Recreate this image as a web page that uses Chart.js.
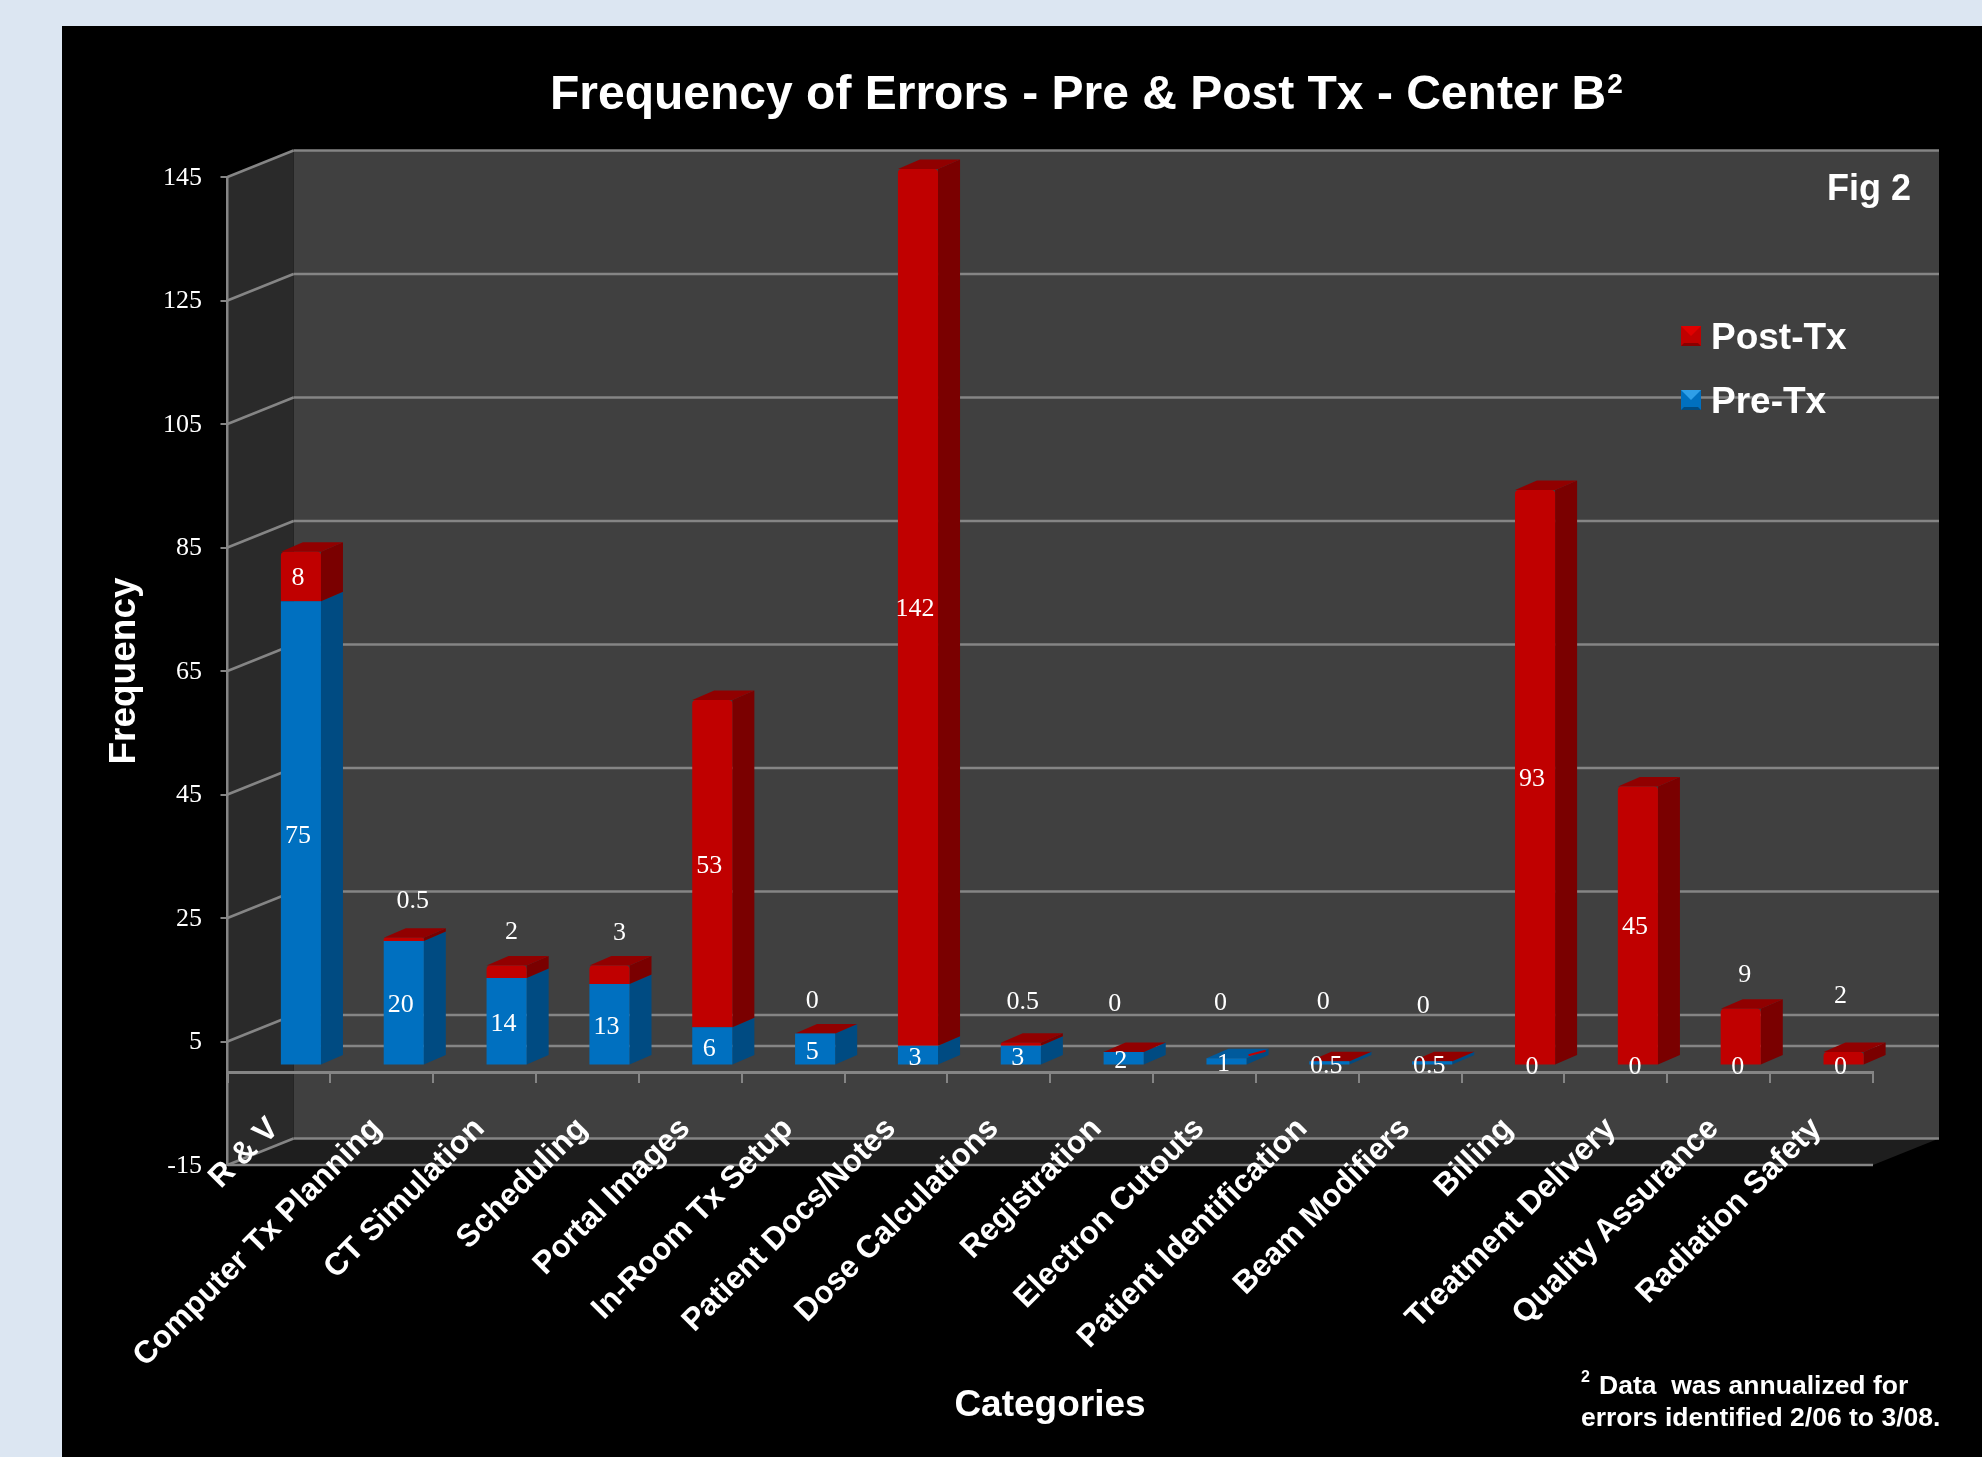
<!DOCTYPE html>
<html>
<head>
    <title>Frequency of Errors</title>
    <script src="https://cdn.jsdelivr.net/npm/chart.js"></script>
    <style>
        body { margin: 0; background: #dce6f2; }
        canvas { display: block; }
    </style>
</head>
<body>
    <canvas id="errorsChart" width="1982" height="1457"></canvas>

    <script>
        const categories = ['R & V', 'Computer Tx Planning', 'CT Simulation', 'Scheduling', 'Portal Images',
            'In-Room Tx Setup', 'Patient Docs/Notes', 'Dose Calculations', 'Registration', 'Electron Cutouts',
            'Patient Identification', 'Beam Modifiers', 'Billing', 'Treatment Delivery', 'Quality Assurance',
            'Radiation Safety'];
        const preTx = [75, 20, 14, 13, 6, 5, 3, 3, 2, 1, 0.5, 0.5, 0, 0, 0, 0];
        const postTx = [8, 0.5, 2, 3, 53, 0, 142, 0.5, 0, 0, 0, 0, 93, 45, 9, 2];
        const yTicks = [-15, 5, 25, 45, 65, 85, 105, 125, 145];

        // hand placed labels for the short post-tx segments, relative to the segment centre
        const postLabelDx = [0, 12, 8, 13, 0, 0, 0, 5, -6, -3, -3, -6, 0, 0, 7, 0];
        const postLabelDy = [0, -40, -42, -44, 0, -34, 0, -44, -50, -57, -61, -57, 0, 0, -63, -64];

        const SANS = '"Liberation Sans", Arial, sans-serif';
        const SERIF = '"Liberation Serif", "Times New Roman", serif';
        const LINE = '#858585';

        // depth of the box and where the bars sit inside it
        const wallDx = 66, wallDy = 26.5;
        const barOffX = 22, barOffY = 8;
        const barDx = 22, barDy = 9.5;

        const colours = {
            pre: { front: '#0070c0', side: '#004b82', top: '#005a9c' },
            post: { front: '#c00000', side: '#7a0000', top: '#910000' }
        };

        function poly(ctx, pts, fill) {
            ctx.beginPath();
            pts.forEach((p, i) => i ? ctx.lineTo(p[0], p[1]) : ctx.moveTo(p[0], p[1]));
            ctx.closePath();
            ctx.fillStyle = fill;
            ctx.fill();
        }

        function seg(ctx, x1, y1, x2, y2) {
            ctx.beginPath();
            ctx.moveTo(x1, y1);
            ctx.lineTo(x2, y2);
            ctx.stroke();
        }

        function text(ctx, str, x, y, font, align) {
            ctx.font = font;
            ctx.fillStyle = '#fff';
            ctx.textAlign = align || 'center';
            ctx.textBaseline = 'middle';
            ctx.fillText(str, x, y);
        }

        // black panel, walls, floor and gridlines of the 3d box
        const boxPlugin = {
            id: 'box',
            beforeDraw(chart) {
                const ctx = chart.ctx, a = chart.chartArea, y = chart.scales.y;
                const L = a.left, R = a.right, T = a.top, B = a.bottom;
                ctx.save();
                ctx.fillStyle = '#dce6f2';
                ctx.fillRect(0, 0, chart.width, chart.height);
                ctx.fillStyle = '#000';
                ctx.fillRect(62, 26, chart.width - 62, chart.height - 26);

                poly(ctx, [[L + wallDx, T - wallDy], [R + wallDx, T - wallDy], [R + wallDx, B - wallDy], [L + wallDx, B - wallDy]], '#404040');
                poly(ctx, [[L, T], [L + wallDx, T - wallDy], [L + wallDx, B - wallDy], [L, B]], '#2a2a2a');
                poly(ctx, [[L, B], [L + wallDx, B - wallDy], [R + wallDx, B - wallDy], [R, B]], '#1e1e1e');

                ctx.strokeStyle = LINE;
                ctx.lineWidth = 2.5;
                yTicks.forEach(v => {
                    const py = y.getPixelForValue(v);
                    seg(ctx, L, py, L + wallDx, py - wallDy);
                    seg(ctx, L + wallDx, py - wallDy, R + wallDx, py - wallDy);
                });
                const zero = y.getPixelForValue(0);
                seg(ctx, L + wallDx, zero - wallDy, R + wallDx, zero - wallDy);
                seg(ctx, L, B, R, B);
                ctx.restore();
            },
            // side and top faces come from the bar elements, the fronts are drawn by the chart
            beforeDatasetsDraw(chart) {
                const ctx = chart.ctx;
                const pre = chart.getDatasetMeta(0).data;
                const post = chart.getDatasetMeta(1).data;
                ctx.save();
                categories.forEach((name, i) => {
                    [[pre[i], colours.pre], [post[i], colours.post]].forEach(([bar, c]) => {
                        const r = bar.x + bar.width / 2 + barOffX;
                        const top = bar.y - barOffY, bot = bar.base - barOffY;
                        poly(ctx, [[r, top], [r + barDx, top - barDy], [r + barDx, bot - barDy], [r, bot]], c.side);
                    });
                    const b = post[i];
                    const l = b.x - b.width / 2 + barOffX, r = b.x + b.width / 2 + barOffX, t = b.y - barOffY;
                    // the electron cutouts bar shows its blue top with only a sliver of red
                    const blueTop = name === 'Electron Cutouts';
                    poly(ctx, [[l, t], [l + barDx, t - barDy], [r + barDx, t - barDy], [r, t]], blueTop ? colours.pre.top : colours.post.top);
                    if (blueTop) {
                        ctx.strokeStyle = colours.post.front;
                        ctx.lineWidth = 2;
                        seg(ctx, r + 2, t - 3, r + barDx - 3, t - barDy + 2);
                    }
                });
                ctx.restore();
                ctx.save();
                ctx.translate(barOffX, -barOffY);
            },
            afterDatasetsDraw(chart) {
                const ctx = chart.ctx;
                ctx.restore();
                const pre = chart.getDatasetMeta(0).data;
                const post = chart.getDatasetMeta(1).data;
                const font = '26px ' + SERIF;
                ctx.save();
                categories.forEach((name, i) => {
                    const cx = pre[i].x + barOffX - 3;
                    text(ctx, String(preTx[i]), cx, (pre[i].y + pre[i].base) / 2 - barOffY + 3, font);
                    text(ctx, String(postTx[i]), cx + postLabelDx[i], (post[i].y + post[i].base) / 2 - barOffY + postLabelDy[i] + 2, font);
                });
                ctx.restore();
            },
            afterDraw(chart) {
                const ctx = chart.ctx, y = chart.scales.y;
                ctx.save();
                // y tick labels sit a touch below their ticks
                yTicks.forEach(v => text(ctx, String(v), 202, y.getPixelForValue(v) + 1, '26px ' + SERIF, 'right'));

                text(ctx, 'Frequency of Errors - Pre & Post Tx - Center B', 550, 96, 'bold 48px ' + SANS, 'left');
                const titleEnd = 550 + ctx.measureText('Frequency of Errors - Pre & Post Tx - Center B').width;
                text(ctx, '2', titleEnd + 1, 85, 'bold 28px ' + SANS, 'left');

                text(ctx, 'Fig 2', 1869, 190, 'bold 36px ' + SANS);
                text(ctx, 'Categories', 1050, 1406, 'bold 37px ' + SANS);

                text(ctx, '2', 1581, 1378, 'bold 16px ' + SANS, 'left');
                text(ctx, 'Data  was annualized for', 1599, 1387, 'bold 26.5px ' + SANS, 'left');
                text(ctx, 'errors identified 2/06 to 3/08.', 1581, 1419, 'bold 26.5px ' + SANS, 'left');

                // legend with small pyramid markers
                [[chart.data.datasets[1], 326, 339, '#e00000', '#c00000', '#8a0000'],
                 [chart.data.datasets[0], 390, 403, '#2f9fe8', '#0070c0', '#004b82']].forEach(([ds, my, ty, hi, mid, lo]) => {
                    const mx = 1681, s = 20, c = s / 2;
                    ctx.fillStyle = mid;
                    ctx.fillRect(mx, my, s, s);
                    poly(ctx, [[mx, my], [mx + s, my], [mx + c, my + c]], hi);
                    poly(ctx, [[mx, my + s], [mx + s, my + s], [mx + s - 3, my + s - 3], [mx + 3, my + s - 3]], lo);
                    text(ctx, ds.label, 1711, ty, 'bold 37px ' + SANS, 'left');
                });
                ctx.restore();
            }
        };

        new Chart(document.getElementById('errorsChart').getContext('2d'), {
            type: 'bar',
            data: {
                labels: categories,
                datasets: [
                    { label: 'Pre-Tx', data: preTx, backgroundColor: colours.pre.front, clip: false },
                    {
                        label: 'Post-Tx', data: postTx, backgroundColor: colours.post.front, clip: false,
                        borderRadius: { topLeft: 4, topRight: 4, bottomLeft: 0, bottomRight: 0 }
                    }
                ]
            },
            plugins: [boxPlugin],
            options: {
                responsive: false,
                animation: false,
                layout: { padding: { top: 177, right: 109, bottom: 292, left: 0 } },
                datasets: { bar: { barPercentage: 0.39, categoryPercentage: 1 } },
                plugins: {
                    legend: { display: false },
                    title: { display: false },
                    tooltip: { enabled: false }
                },
                scales: {
                    x: {
                        stacked: true,
                        position: { y: 0 },
                        border: { color: LINE, width: 3 },
                        grid: { offset: true, drawOnChartArea: false, color: LINE, lineWidth: 2, tickLength: 9 },
                        ticks: {
                            color: '#fff',
                            autoSkip: false,
                            minRotation: 45,
                            maxRotation: 45,
                            padding: 29,
                            labelOffset: -5,
                            font: { family: SANS, size: 31.5, weight: 'bold' }
                        }
                    },
                    y: {
                        stacked: true,
                        min: -15,
                        max: 145,
                        afterFit(scale) { scale.width = 227.5; },
                        afterBuildTicks(scale) { scale.ticks = yTicks.map(v => ({ value: v })); },
                        border: { color: LINE, width: 2.5 },
                        grid: { drawOnChartArea: false, color: LINE, lineWidth: 2, tickLength: 7 },
                        ticks: { display: false },
                        title: {
                            display: true,
                            text: 'Frequency',
                            color: '#fff',
                            padding: { top: 103, bottom: 0 },
                            font: { family: SANS, size: 37, weight: 'bold' }
                        }
                    }
                }
            }
        });
    </script>
</body>
</html>
